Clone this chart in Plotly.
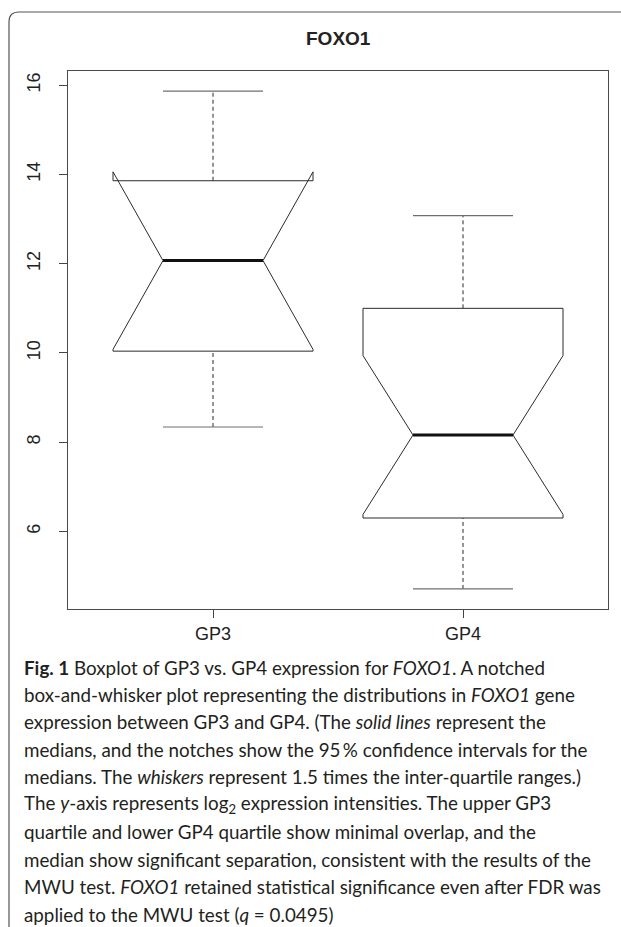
import plotly.graph_objects as go

# Summary statistics of FOXO1 log2 expression per group
groups = ["GP3", "GP4"]
whisker_low = [8.34, 4.71]
q1 = [10.04, 6.30]
median = [12.07, 8.16]
q3 = [13.86, 11.00]
whisker_high = [15.87, 13.08]
notch_span = [1.99, 1.78]

y_ticks = [6, 8, 10, 12, 14, 16]

caption_lines = [
    "<b>Fig. 1</b> Boxplot of GP3 vs. GP4 expression for <i>FOXO1</i>. A notched",
    "box-and-whisker plot representing the distributions in <i>FOXO1</i> gene",
    "expression between GP3 and GP4. (The <i>solid lines</i> represent the",
    "medians, and the notches show the 95\u2009% confidence intervals for the",
    "medians. The <i>whiskers</i> represent 1.5 times the inter-quartile ranges.)",
    "The <i>y</i>-axis represents log<sub>2</sub> expression intensities. The upper GP3",
    "quartile and lower GP4 quartile show minimal overlap, and the",
    "median show significant separation, consistent with the results of the",
    "MWU test. <i>FOXO1</i> retained statistical significance even after FDR was",
    "applied to the MWU test (<i>q</i> = 0.0495)",
]

W, H = 621, 927
ML, MR, MT, MB = 68, 13, 71, 318
PW, PH = W - ML - MR, H - MT - MB


def px_x(px):
    return (px - ML) / PW


def px_y(py):
    return (H - MB - py) / PH


BOX_HALF = 0.4
NOTCH_HALF = 0.2
CAP_HALF = 0.2
INK = "#2b2b2b"

fig = go.Figure()

for i, name in enumerate(groups):
    x = i + 1
    lo_n = median[i] - notch_span[i]
    hi_n = median[i] + notch_span[i]
    xl, xr = x - BOX_HALF, x + BOX_HALF
    nl, nr = x - NOTCH_HALF, x + NOTCH_HALF
    # notched box outline
    fig.add_trace(go.Scatter(
        x=[xl, xl, nl, xl, xl, xr, xr, nr, xr, xr, xl],
        y=[q1[i], lo_n, median[i], hi_n, q3[i], q3[i], hi_n, median[i], lo_n, q1[i], q1[i]],
        mode="lines", line=dict(color=INK, width=1),
        hoverinfo="skip", showlegend=False,
    ))
    # whiskers
    for a, b in ((q3[i], whisker_high[i]), (whisker_low[i], q1[i])):
        fig.add_trace(go.Scatter(
            x=[x, x], y=[a, b], mode="lines",
            line=dict(color=INK, width=1, dash="4px,3px"),
            hoverinfo="skip", showlegend=False,
        ))
    # staples
    for v in (whisker_high[i], whisker_low[i]):
        fig.add_trace(go.Scatter(
            x=[x - CAP_HALF, x + CAP_HALF], y=[v, v], mode="lines",
            line=dict(color="#6f6f6f", width=1.2),
            hoverinfo="skip", showlegend=False,
        ))
    # median
    fig.add_trace(go.Scatter(
        x=[nl, nr], y=[median[i], median[i]], mode="lines",
        line=dict(color="#111111", width=3),
        hoverinfo="skip", showlegend=False,
    ))

axis_font = dict(family="Liberation Sans, Arial, sans-serif", size=18, color="#222222")

fig.update_xaxes(
    range=[0.42, 2.58], tickvals=[1, 2], ticktext=groups,
    ticks="outside", ticklen=8, tickcolor="#444444", tickwidth=1,
    showline=True, mirror=True, linecolor="#4a4a4a", linewidth=1,
    showgrid=False, zeroline=False, tickfont=axis_font,
)
fig.update_yaxes(
    range=[4.26, 16.32], tickvals=y_ticks, ticktext=[str(t) for t in y_ticks],
    tickangle=-90, ticks="outside", ticklen=8, tickcolor="#444444", tickwidth=1,
    ticklabelstandoff=12,
    showline=True, mirror=True, linecolor="#4a4a4a", linewidth=1,
    showgrid=False, zeroline=False, tickfont=axis_font,
)

annotations = [dict(
    text="<b>FOXO1</b>", xref="paper", yref="paper",
    x=0.5, y=px_y(38), xanchor="center", yanchor="middle",
    showarrow=False, font=dict(family="Liberation Sans, Arial, sans-serif", size=19, color="#222222"),
)]

cap_font = dict(family="Lato, Open Sans, sans-serif", size=18.8, color="#231f20")
for k, line in enumerate(caption_lines):
    annotations.append(dict(
        text=line, xref="paper", yref="paper",
        x=px_x(22), y=px_y(667 + 27.45 * k), xanchor="left", yanchor="middle",
        showarrow=False, align="left", font=cap_font,
    ))

# rounded panel border around the figure and caption
r = 10
x0, y0 = 9, 12
panel = (
    f"M {px_x(x0)},{px_y(H + 5)} L {px_x(x0)},{px_y(y0 + r)} "
    f"Q {px_x(x0)},{px_y(y0)} {px_x(x0 + r)},{px_y(y0)} L {px_x(W + 5)},{px_y(y0)}"
)

fig.update_layout(
    width=W, height=H,
    margin=dict(l=ML, r=MR, t=MT, b=MB),
    paper_bgcolor="white", plot_bgcolor="white",
    annotations=annotations,
    shapes=[dict(type="path", path=panel, xref="paper", yref="paper",
                 line=dict(color="#555555", width=1.2), layer="above")],
)

fig.write_html("out.html")
